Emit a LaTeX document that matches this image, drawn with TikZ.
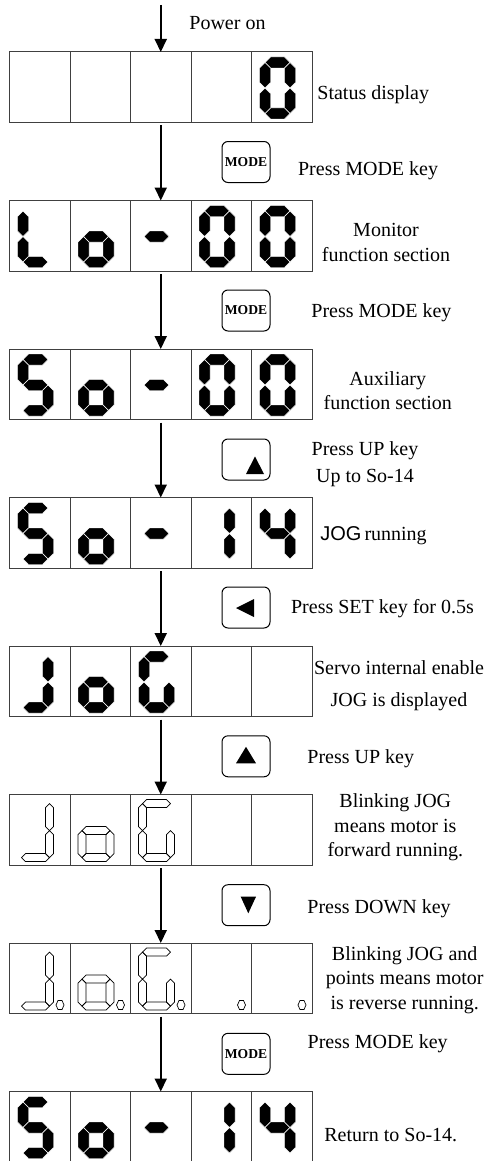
\documentclass[tikz,border=0pt]{standalone}
\usepackage{fontspec}
\setmainfont{Liberation Serif}
\newfontfamily\jogfont{Liberation Sans}
\usetikzlibrary{arrows.meta, positioning, calc}

% seven-segment digit: width \segw, height \segv, middle \segm, half bar \segh (y runs downwards)
\newcommand{\segw}{36}
\newcommand{\segv}{62}
\newcommand{\segm}{31}
\newcommand{\segh}{5.5}
\newcommand{\segmenta}{(\segh,\segh) -- (2*\segh,0) -- (\segw-2*\segh,0) -- (\segw-\segh,\segh)
  -- (\segw-2*\segh,2*\segh) -- (2*\segh,2*\segh) -- cycle}
\newcommand{\segmentb}{(\segw-\segh,\segh) -- (\segw,2*\segh) -- (\segw,\segm-\segh) -- (\segw-\segh,\segm)
  -- (\segw-2*\segh,\segm-\segh) -- (\segw-2*\segh,2*\segh) -- cycle}
\newcommand{\segmentc}{(\segw-\segh,\segm) -- (\segw,\segm+\segh) -- (\segw,\segv-2*\segh) -- (\segw-\segh,\segv-\segh)
  -- (\segw-2*\segh,\segv-2*\segh) -- (\segw-2*\segh,\segm+\segh) -- cycle}
\newcommand{\segmentd}{(\segh,\segv-\segh) -- (2*\segh,\segv-2*\segh) -- (\segw-2*\segh,\segv-2*\segh) -- (\segw-\segh,\segv-\segh)
  -- (\segw-2*\segh,\segv) -- (2*\segh,\segv) -- cycle}
\newcommand{\segmente}{(\segh,\segm) -- (2*\segh,\segm+\segh) -- (2*\segh,\segv-2*\segh) -- (\segh,\segv-\segh)
  -- (0,\segv-2*\segh) -- (0,\segm+\segh) -- cycle}
\newcommand{\segmentf}{(\segh,\segh) -- (2*\segh,2*\segh) -- (2*\segh,\segm-\segh) -- (\segh,\segm)
  -- (0,\segm-\segh) -- (0,2*\segh) -- cycle}
\newcommand{\segmentg}{(\segh,\segm) -- (2*\segh,\segm-\segh) -- (\segw-2*\segh,\segm-\segh) -- (\segw-\segh,\segm)
  -- (\segw-2*\segh,\segm+\segh) -- (2*\segh,\segm+\segh) -- cycle}
\newcommand{\segmentp}{(38.5,57) -- (40.5,52.5) -- (44.5,52.5) -- (46.5,57) -- (44.5,61.5) -- (40.5,61.5) -- cycle}

% #1 panel, #2 cell (0..4), #3 segments, #4 style
\newcommand{\segdigit}[4]{%
  \begin{scope}[shift={($(#1.north west)+(#2*60.5+8,5)$)}]
    \foreach \s in {#3} {\draw[#4] \csname segment\s\endcsname;}
  \end{scope}}

\begin{document}
\begin{tikzpicture}[
    x=0.5pt, y=-0.5pt,
    node distance = 39pt,
    panel/.style  = {rectangle, draw=black!75, line width=0.5pt,
                     minimum width=151.25pt, minimum height=35.25pt,
                     inner sep=0pt, outer sep=0pt},
    keybox/.style = {rectangle, draw, rounded corners=3pt, line width=0.5pt,
                     minimum width=24pt, minimum height=20.5pt, inner sep=0pt},
    modetext/.style = {font=\fontsize{6.8}{8}\selectfont\bfseries},
    note/.style   = {inner sep=0pt, font=\fontsize{10}{12.25}\selectfont},
    lit/.style    = {fill=black, draw=white, line width=0.2pt},
    blink/.style  = {draw=black, line width=0.35pt, /utils/exec={\def\segh{4}}},
    arr/.style    = {-{Triangle[length=6.5pt, width=6pt]}, line width=1pt}
]
  \useasboundingbox (0,0) rectangle (490,1161);

  \node[panel] (p1) at (160.75,87.25) {};
  \node[panel, below=of p1] (p2) {};
  \node[panel, below=of p2] (p3) {};
  \node[panel, below=of p3] (p4) {};
  \node[panel, below=of p4] (p5) {};
  \node[panel, below=of p5] (p6) {};
  \node[panel, below=of p6] (p7) {};
  \node[panel, below=of p7] (p8) {};

  % cell borders
  \foreach \n in {1,...,8}
    \foreach \i in {1,...,4}
      \draw[black!75, line width=0.5pt]
        ($(p\n.north west)!\i/5!(p\n.north east)$) -- ($(p\n.south west)!\i/5!(p\n.south east)$);

  % digits
  \segdigit{p1}{4}{a,b,c,d,e,f}{lit}
  \segdigit{p2}{0}{f,e,d}{lit}
  \segdigit{p2}{1}{g,c,d,e}{lit}
  \segdigit{p2}{2}{g}{lit}
  \segdigit{p2}{3}{a,b,c,d,e,f}{lit}
  \segdigit{p2}{4}{a,b,c,d,e,f}{lit}
  \segdigit{p3}{0}{a,f,g,c,d}{lit}
  \segdigit{p3}{1}{g,c,d,e}{lit}
  \segdigit{p3}{2}{g}{lit}
  \segdigit{p3}{3}{a,b,c,d,e,f}{lit}
  \segdigit{p3}{4}{a,b,c,d,e,f}{lit}
  \segdigit{p4}{0}{a,f,g,c,d}{lit}
  \segdigit{p4}{1}{g,c,d,e}{lit}
  \segdigit{p4}{2}{g}{lit}
  \segdigit{p4}{3}{b,c}{lit}
  \segdigit{p4}{4}{f,g,b,c}{lit}
  \segdigit{p5}{0}{b,c,d}{lit}
  \segdigit{p5}{1}{g,c,d,e}{lit}
  \segdigit{p5}{2}{a,f,e,d,c}{lit}
  \segdigit{p6}{0}{b,c,d}{blink}
  \segdigit{p6}{1}{g,c,d,e}{blink}
  \segdigit{p6}{2}{a,f,e,d,c}{blink}
  \segdigit{p7}{0}{b,c,d,p}{blink}
  \segdigit{p7}{1}{g,c,d,e,p}{blink}
  \segdigit{p7}{2}{a,f,e,d,c,p}{blink}
  \segdigit{p7}{3}{p}{blink}
  \segdigit{p7}{4}{p}{blink}
  \segdigit{p8}{0}{a,f,g,c,d}{lit}
  \segdigit{p8}{1}{g,c,d,e}{lit}
  \segdigit{p8}{2}{g}{lit}
  \segdigit{p8}{3}{b,c}{lit}
  \segdigit{p8}{4}{f,g,b,c}{lit}

  % keys
  \node[keybox, modetext] (mode1) at (246,162)    {MODE};
  \node[keybox, modetext] (mode2) at (246,310.5)  {MODE};
  \node[keybox]           (up1)   at (246,459.5)  {};
  \node[keybox]           (set)   at (246,607.5)  {};
  \node[keybox]           (up2)   at (246,756.3)  {};
  \node[keybox]           (down)  at (246,905.2)  {};
  \node[keybox, modetext] (mode3) at (246,1053.8) {MODE};
  \fill[shift={(up1.center)}]  (9,-3) -- (18,14.5) -- (0,14.5) -- cycle;
  \fill[shift={(set.center)}]  (-10,0.5) -- (8,-8.5) -- (8,9.5) -- cycle;
  \fill[shift={(up2.center)}]  (0,-9.5) -- (10,7) -- (-10,7) -- cycle;
  \fill[shift={(down.center)}] (2.3,8.1) -- (-5.3,-8.5) -- (10,-8.5) -- cycle;

  % flow
  \coordinate (start) at (160.75,5);
  \draw[arr] (start) -- (p1.north);
  \foreach \i [evaluate=\i as \j using int(\i+1)] in {1,...,7}
    \draw[arr, shorten <=1.5pt] (p\i.south) -- (p\j.north);

  % texts (multi-line ones sit on their last baseline)
  \node[note, anchor=base west] (tpower) at (189,30) {Power on};
  \node[note, anchor=base west] (tstat)  at (317,100) {Status display};
  \node[note, anchor=base west] (tmode1) at (297.7,175.5) {Press MODE key};
  \node[note, anchor=base, align=center] (tmon) at (386,261) {Monitor\\function section};
  \node[note, anchor=base west] (tmode2) at (311,317.5) {Press MODE key};
  \node[note, anchor=base, align=center] (taux) at (387.8,409.5) {Auxiliary\\function section};
  \node[note, anchor=base, align=center] (tup1) at (365,482.7) {Press UP key\\[1.6pt]Up to So-14};
  \node[note, anchor=base west] (tjog)   at (320,540) {{\jogfont JOG}\hspace{1.5pt}running};
  \node[note, anchor=base west] (tset)   at (290.7,613.3) {Press SET key for 0.5s};
  \node[note, anchor=base, align=center] (tservo) at (399,706) {Servo internal enable\\[3.75pt]JOG is displayed};
  \node[note, anchor=base west] (tup2)   at (307,763.3) {Press UP key};
  \node[note, anchor=base, align=center] (tfwd) at (395.3,856.7) {Blinking JOG\\means motor is\\forward running.};
  \node[note, anchor=base west] (tdown)  at (307,913.3) {Press DOWN key};
  \node[note, anchor=base, align=center] (trev) at (404.7,1009) {Blinking JOG and\\points means motor\\is reverse running.};
  \node[note, anchor=base west] (tmode3) at (307.3,1048.3) {Press MODE key};
  \node[note, anchor=base west] (tret)   at (324,1141.7) {Return to So-14.};
\end{tikzpicture}
\end{document}
